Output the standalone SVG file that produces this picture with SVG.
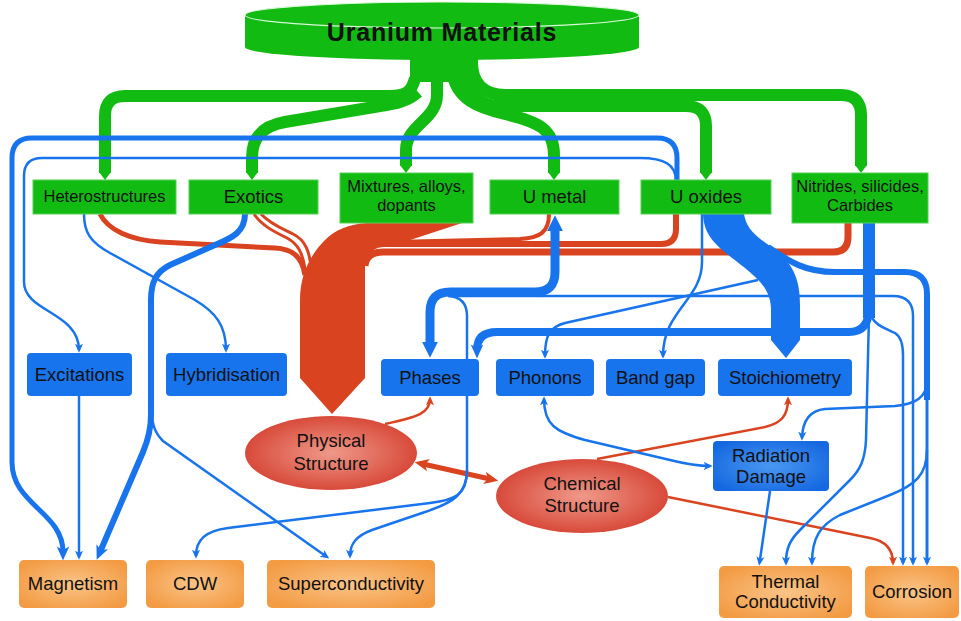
<svg xmlns="http://www.w3.org/2000/svg" width="961" height="621" viewBox="0 0 961 621">
<defs>
<style>
.t{font-family:"Liberation Sans",Arial,sans-serif;fill:#111;text-anchor:middle}
.s{font-size:18.5px}
.m{font-size:16.5px}
.gb{fill:#12bb12;stroke:#55d055;stroke-width:1}
.bb{fill:#1874ec}
.ob{fill:url(#og)}
.el{fill:url(#rg)}
.g{fill:none;stroke:#12bb12;stroke-width:12}
.r{fill:none;stroke:#d9431f}
.b{fill:none;stroke:#1874ec}
.gt{fill:#12bb12}
</style>
<radialGradient id="rg" cx="50%" cy="50%" r="50%"><stop offset="0" stop-color="#ef998a"/><stop offset="1" stop-color="#d84a3a"/></radialGradient>
<radialGradient id="og" cx="50%" cy="50%" r="60%"><stop offset="0" stop-color="#fac488"/><stop offset="1" stop-color="#f39b43"/></radialGradient>
<radialGradient id="bg" cx="50%" cy="50%" r="60%"><stop offset="0" stop-color="#4a98f2"/><stop offset="1" stop-color="#1568e0"/></radialGradient>
<marker id="ab" viewBox="0 0 10 10" refX="7" refY="5" markerWidth="9" markerHeight="9" markerUnits="userSpaceOnUse" orient="auto-start-reverse"><path d="M0,0.5 L10,5 L0,9.5 L2.5,5 Z" fill="#1874ec"/></marker>
<marker id="abL" viewBox="0 0 10 10" refX="4" refY="5" markerWidth="14" markerHeight="14" markerUnits="userSpaceOnUse" orient="auto-start-reverse"><path d="M0,0.5 L10,5 L0,9.5 L2.5,5 Z" fill="#1874ec"/></marker>
<marker id="abP" viewBox="0 0 10 10" refX="2" refY="5" markerWidth="16" markerHeight="16" markerUnits="userSpaceOnUse" orient="auto-start-reverse"><path d="M0,0 L10,5 L0,10 Z" fill="#1874ec"/></marker>
<marker id="ar" viewBox="0 0 10 10" refX="7" refY="5" markerWidth="9" markerHeight="9" markerUnits="userSpaceOnUse" orient="auto-start-reverse"><path d="M0,0.5 L10,5 L0,9.5 L2.5,5 Z" fill="#d9431f"/></marker>
<marker id="arL" viewBox="0 0 10 10" refX="4" refY="5" markerWidth="14" markerHeight="14" markerUnits="userSpaceOnUse" orient="auto-start-reverse"><path d="M0,0.5 L10,5 L0,9.5 L2.5,5 Z" fill="#d9431f"/></marker>
</defs>

<g id="uranium-materials">
<path d="M245,15 L245,47 A197,13 0 0 0 639,47 L639,15 Z" fill="#12bb12"/>
<ellipse cx="442" cy="15" rx="197" ry="13" fill="#12bb12" stroke="#d8f8d8" stroke-width="1.2"/>
<text class="t" x="442" y="41" style="font-size:25px;font-weight:bold;letter-spacing:0.8px">Uranium Materials</text>
</g>

<g id="connectors">
<!-- green -->
<rect x="410" y="50" width="68" height="32" fill="#12bb12"/>
<path class="g" d="M415,78 C412,92 405,96 390,96 L125,96 Q105,96 105,116 L105,173"/>
<path class="g" d="M418,92 C408,101 396,104 380,106 L285,122 C262,126 252,138 252,158 L252,173"/>
<path class="g" d="M437,62 L437,95 C437,120 406,125 406,150 L406,166"/>
<path class="g" d="M452,70 C455,100 480,108 505,114 C540,122 554,130 554,155 L554,173"/>
<path class="g" d="M465,65 C465,95 480,106 500,106 L686,106 Q706,106 706,126 L706,173"/>
<path class="g" d="M472,62 C472,85 485,95 505,95 L841,95 Q861,95 861,115 L861,166"/>
<polygon class="gt" points="99,172 111,172 105,180"/>
<polygon class="gt" points="246,172 258,172 252,180"/>
<polygon class="gt" points="400,165 412,165 406,173"/>
<polygon class="gt" points="548,172 560,172 554,180"/>
<polygon class="gt" points="700,172 712,172 706,180"/>
<polygon class="gt" points="855,165 867,165 861,173"/>
<!-- red -->
<path fill="#d9431f" d="M300,378 L300,300 C300,275 310,255 325,240 C335,230 348,224 368,223 L462,223 L398,244 L380,244 Q365,246 365,262 L365,378 L332,414 Z"/>
<path class="r" stroke-width="4" d="M549,214 C549,232 540,238 520,239 L392,242"/>
<path class="r" stroke-width="6" d="M676,214 L676,229 Q676,244 661,244 L383,244 Q366,245 366,262"/>
<path class="r" stroke-width="7" d="M848,223 L848,237 Q848,252 833,252 L383,252 Q366,252 365,266"/>
<path class="r" stroke-width="5" d="M100,214 C108,230 130,240 160,242 L275,248 C292,249 302,256 305,275"/>
<path class="r" stroke-width="3" d="M254,214 C262,226 275,232 287,238 C298,244 303,252 306,275"/>
<path class="r" stroke-width="3" d="M261,214 C270,224 283,229 293,234 C305,240 310,250 312,275"/>
<path class="r" stroke-width="2.5" marker-end="url(#ar)" d="M385,424 C418,417 430,413 430,399"/>
<path class="r" stroke-width="5" marker-start="url(#arL)" marker-end="url(#arL)" d="M423,464 L490,479"/>
<path class="r" stroke-width="2.5" marker-end="url(#ar)" d="M597,459 L765,427 C782,423 788,415 788,399"/>
<path class="r" stroke-width="2.5" marker-end="url(#ar)" d="M668,497 L870,538 C886,541 893,550 893,563"/>
<!-- blue -->
<path class="b" stroke-width="5" marker-end="url(#abL)" d="M677,181 L677,158 Q677,138 657,138 L32,138 Q12,138 12,158 L12,462 C12,505 63,512 63,552"/>
<path class="b" stroke-width="2.5" marker-end="url(#ab)" d="M676,181 C676,165 665,158 640,158 L42,158 Q24,158 24,176 L24,282 C24,312 79,312 79,350"/>
<path class="b" stroke-width="2.5" marker-end="url(#ab)" d="M84,214 C84,232 90,242 110,253 L195,300 C215,312 226,325 226,350"/>
<path class="b" stroke-width="6" marker-end="url(#abL)" d="M245,214 C245,232 232,238 215,245 L170,265 C156,272 151,282 151,300 L151,415 C151,430 148,440 143,452 L100,552"/>
<path class="b" stroke-width="2.5" marker-end="url(#ab)" d="M151,400 C151,425 155,433 163,441 L327,557"/>
<path class="b" stroke-width="2.5" marker-end="url(#ab)" d="M79,396 L79,557"/>
<path class="b" stroke-width="2.5" marker-end="url(#ab)" d="M448,296 Q467,297 467,316 L467,470 C467,495 455,500 430,503 L228,528 C205,531 196,540 196,556"/>
<path class="b" stroke-width="2.5" marker-end="url(#ab)" d="M467,470 C467,495 452,503 425,512 L372,530 C356,536 350,544 350,556"/>
<path class="b" stroke-width="2.5" marker-end="url(#ab)" d="M455,296 L893,296 Q913,296 913,316 L913,563"/>
<path class="b" stroke-width="9" marker-start="url(#abP)" marker-end="url(#abP)" d="M555,228 L555,272 Q555,292 535,292 L450,292 Q430,292 430,312 L430,345"/>
<path class="b" stroke-width="12" d="M869,223 L869,318"/>
<path class="b" stroke-width="8" marker-end="url(#abL)" d="M869,308 Q869,332 849,332 L497,332 Q477,332 477,350"/>
<path class="b" stroke-width="2.5" marker-end="url(#ab)" d="M869,310 C872,325 885,328 895,333 Q903,338 903,355 L903,563"/>
<path class="b" stroke-width="2.5" marker-end="url(#ab)" d="M869,315 L866,440 C865,460 860,470 850,480 L800,530 C790,540 786,548 786,563"/>
<path fill="#1874ec" d="M703,214 L744,214 C746,226 752,234 770,246 C795,263 800,282 800,305 L800,340 L786,358 L771,340 L771,310 C771,292 762,282 745,268 C718,247 704,238 703,214 Z"/>
<path class="b" stroke-width="6" d="M768,247 C790,262 805,272 835,272 L905,272 Q927,272 927,294 L927,400"/>
<path class="b" stroke-width="3" marker-end="url(#ab)" d="M927,395 L927,563"/>
<path class="b" stroke-width="2.5" marker-end="url(#ab)" d="M927,380 C927,398 915,404 895,406 L825,409 Q803,411 802,438"/>
<path class="b" stroke-width="2.5" marker-end="url(#ab)" d="M927,450 C927,475 915,485 890,495 L840,515 C820,525 812,538 812,563"/>
<path class="b" stroke-width="2.5" marker-end="url(#ab)" d="M770,491 L759.5,563"/>
<path class="b" stroke-width="2.5" marker-end="url(#ab)" d="M702,214 L702,262 C702,300 663,310 663,356"/>
<path class="b" stroke-width="2.5" marker-end="url(#ab)" d="M758,280 L565,323 C550,327 545,335 545,356"/>
<path class="b" stroke-width="2.5" marker-start="url(#ab)" marker-end="url(#ab)" d="M544,399 C544,425 556,432 585,440 L670,460 C690,465 700,466 710,466"/>
</g>

<g id="heterostructures"><rect class="gb" x="33" y="180" width="143" height="34"/><text class="t m" x="104.5" y="202">Heterostructures</text></g>
<g id="exotics"><rect class="gb" x="189" y="180" width="129" height="34"/><text class="t s" x="253.5" y="203">Exotics</text></g>
<g id="mixtures"><rect class="gb" x="340" y="173" width="133" height="50"/><text class="t m" x="406.5" y="192">Mixtures, alloys,</text><text class="t m" x="406.5" y="211">dopants</text></g>
<g id="u-metal"><rect class="gb" x="490" y="180" width="129" height="34"/><text class="t s" x="554.5" y="203">U metal</text></g>
<g id="u-oxides"><rect class="gb" x="641" y="180" width="130" height="34"/><text class="t s" x="706" y="203">U oxides</text></g>
<g id="nitrides"><rect class="gb" x="792" y="173" width="136" height="50"/><text class="t m" x="860" y="192">Nitrides, silicides,</text><text class="t m" x="860" y="211">Carbides</text></g>

<g id="excitations"><rect class="bb" x="27" y="353" width="105" height="43" rx="4"/><text class="t s" x="79.5" y="381">Excitations</text></g>
<g id="hybridisation"><rect class="bb" x="166" y="353" width="121" height="43" rx="4"/><text class="t s" x="226.5" y="381">Hybridisation</text></g>
<g id="phases"><rect class="bb" x="381" y="359" width="98" height="37" rx="4"/><text class="t s" x="430" y="384">Phases</text></g>
<g id="phonons"><rect class="bb" x="496" y="359" width="98" height="37" rx="4"/><text class="t s" x="545" y="384">Phonons</text></g>
<g id="band-gap"><rect class="bb" x="606" y="359" width="99" height="37" rx="4"/><text class="t s" x="655.5" y="384">Band gap</text></g>
<g id="stoichiometry"><rect class="bb" x="718" y="359" width="134" height="37" rx="4"/><text class="t s" x="785" y="384">Stoichiometry</text></g>
<g id="radiation-damage"><rect x="713" y="441" width="116" height="50" rx="4" fill="url(#bg)"/><text class="t s" x="771" y="462">Radiation</text><text class="t s" x="771" y="483">Damage</text></g>

<g id="physical-structure"><ellipse class="el" cx="331" cy="453" rx="86" ry="37"/><text class="t s" x="331" y="447">Physical</text><text class="t s" x="331" y="470">Structure</text></g>
<g id="chemical-structure"><ellipse class="el" cx="582" cy="496" rx="86" ry="37"/><text class="t s" x="582" y="490">Chemical</text><text class="t s" x="582" y="512">Structure</text></g>

<g id="magnetism"><rect class="ob" x="19" y="560" width="108" height="48" rx="5"/><text class="t s" x="73" y="590">Magnetism</text></g>
<g id="cdw"><rect class="ob" x="146" y="560" width="98" height="48" rx="5"/><text class="t s" x="195" y="590">CDW</text></g>
<g id="superconductivity"><rect class="ob" x="267" y="560" width="168" height="48" rx="5"/><text class="t s" x="351" y="590">Superconductivity</text></g>
<g id="thermal-conductivity"><rect class="ob" x="719" y="566" width="133" height="52" rx="5"/><text class="t s" x="785.5" y="588">Thermal</text><text class="t s" x="785.5" y="608">Conductivity</text></g>
<g id="corrosion"><rect class="ob" x="865" y="566" width="94" height="52" rx="5"/><text class="t s" x="912" y="598">Corrosion</text></g>
</svg>
